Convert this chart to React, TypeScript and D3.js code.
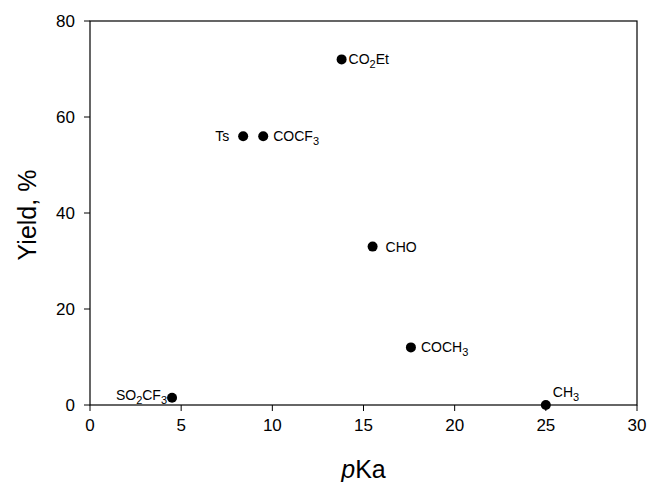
import { scaleLinear } from 'd3';

// substituents and their measured values
const groups = ['SO2CF3', 'Ts', 'COCF3', 'CO2Et', 'CHO', 'COCH3', 'CH3'];
const pKa = [4.5, 8.4, 9.5, 13.8, 15.5, 17.6, 25];
const yieldPct = [1.5, 56, 56, 72, 33, 12, 0];
const xTicks = [0, 5, 10, 15, 20, 25, 30];
const yTicks = [0, 20, 40, 60, 80];

const width = 647;
const height = 482;
const margin = { top: 21, right: 10, bottom: 77, left: 90 };
const font = 'Liberation Sans, Arial, sans-serif';

// how each label sits next to its dot: [dx, dy, anchor]
const labelPos: Record<string, [number, number, string]> = {
  SO2CF3: [-5, 2, 'end'],
  Ts: [-14, 5, 'end'],
  COCF3: [10, 5, 'start'],
  CO2Et: [7, 5, 'start'],
  CHO: [13, 5, 'start'],
  COCH3: [10, 5, 'start'],
  CH3: [7, -8, 'start'],
};

// chemical formula with subscript digits
function Formula({ name }: { name: string }) {
  const parts = name.split(/(\d)/).filter(s => s !== '');
  return (
    <>
      {parts.map((p, i) =>
        /\d/.test(p) ? (
          <tspan key={i} dy={4} fontSize={11}>{p}</tspan>
        ) : (
          <tspan key={i} dy={i > 0 && /\d/.test(parts[i - 1]) ? -4 : 0}>{p}</tspan>
        )
      )}
    </>
  );
}

function App() {
  const innerWidth = width - margin.left - margin.right;
  const innerHeight = height - margin.top - margin.bottom;

  const x = scaleLinear().domain([0, 30]).range([0, innerWidth]);
  const y = scaleLinear().domain([0, 80]).range([innerHeight, 0]);

  return (
    <svg width={width} height={height} style={{ position: 'absolute', left: 0, top: 0 }}>
      <rect width={width} height={height} fill='white' />
      <g transform={`translate(${margin.left}, ${margin.top})`} fontFamily={font}>
        <rect width={innerWidth} height={innerHeight} fill='none' stroke='black' strokeWidth={1.2} />
        {xTicks.map(t => (
          <g key={t} transform={`translate(${x(t)}, ${innerHeight})`}>
            <line y2={6} stroke='black' />
            <text y={26} textAnchor='middle' fontSize={17}>{t}</text>
          </g>
        ))}
        {yTicks.map(t => (
          <g key={t} transform={`translate(0, ${y(t)})`}>
            <line x2={-6} stroke='black' />
            <text x={-15} dy='0.36em' textAnchor='end' fontSize={17}>{t}</text>
          </g>
        ))}
        {groups.map((g, i) => {
          const [dx, dy, anchor] = labelPos[g];
          return (
            <g key={g} transform={`translate(${x(pKa[i])}, ${y(yieldPct[i])})`}>
              <circle r={5} fill='black' />
              <text x={dx} y={dy} fontSize={14} textAnchor={anchor}>
                <Formula name={g} />
              </text>
            </g>
          );
        })}
        <text
          transform={`translate(-54, ${innerHeight / 2 + 2}) rotate(-90)`}
          textAnchor='middle'
          fontSize={25}
        >
          Yield, %
        </text>
        <text x={innerWidth / 2} y={innerHeight + 73} textAnchor='middle' fontSize={25}>
          <tspan fontStyle='italic'>p</tspan>Ka
        </text>
      </g>
    </svg>
  );
}

export default App;
